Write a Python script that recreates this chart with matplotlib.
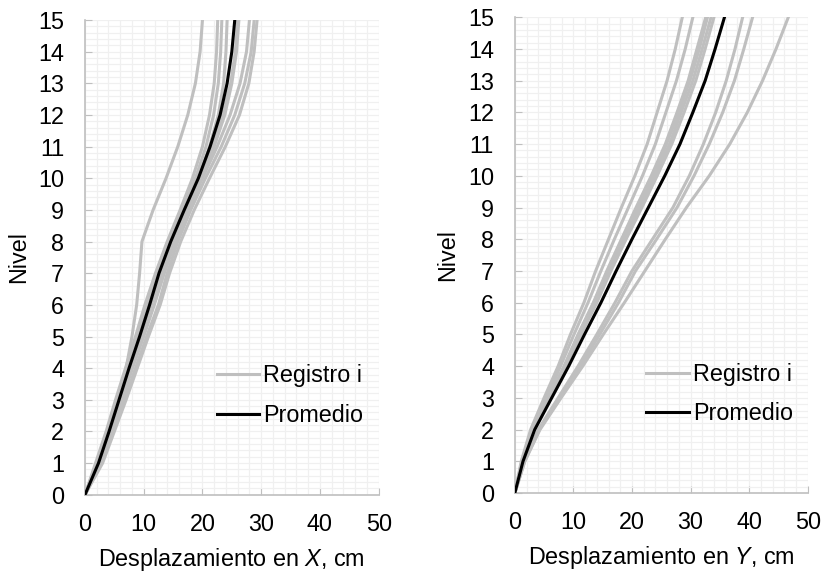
import numpy as np
from matplotlib import pyplot as plt
from matplotlib.ticker import MultipleLocator

plt.rcParams['font.family'] = ['Liberation Sans', 'DejaVu Sans']
plt.rcParams['mathtext.fontset'] = 'custom'
plt.rcParams['mathtext.it'] = 'Liberation Sans:italic'
plt.rcParams['mathtext.rm'] = 'Liberation Sans'

#Niveles del edificio
niveles = np.arange(0, 16)

#Desplazamientos en X de cada registro, cm
regX = [
    [0, 2.0, 3.8, 5.4, 7.0, 8.0, 8.8, 9.3, 9.7, 11.6, 13.8, 15.8, 17.5, 18.8, 19.6, 20.0],
    [0, 1.8, 3.6, 5.2, 6.9, 8.6, 10.2, 12.0, 14.0, 16.2, 18.3, 20.0, 21.2, 22.0, 22.4, 22.6],
    [0, 2.0, 3.8, 5.5, 7.2, 8.9, 10.5, 12.4, 14.4, 16.6, 18.8, 20.6, 21.9, 22.7, 23.1, 23.3],
    [0, 2.2, 4.0, 5.7, 7.4, 9.1, 10.8, 12.7, 14.8, 17.0, 19.3, 21.2, 22.7, 23.6, 24.0, 24.2],
    [0, 2.4, 4.2, 5.9, 7.6, 9.4, 11.1, 13.0, 15.0, 17.2, 19.5, 21.6, 23.4, 24.8, 25.6, 26.0],
    [0, 2.5, 4.3, 6.0, 7.8, 9.6, 11.3, 13.1, 15.1, 17.4, 19.8, 22.0, 23.8, 25.0, 25.8, 26.2],
    [0, 2.6, 4.5, 6.3, 8.1, 10.0, 11.8, 13.5, 15.4, 17.6, 20.0, 22.5, 24.7, 26.4, 27.5, 28.0],
    [0, 2.8, 4.8, 6.7, 8.6, 10.5, 12.5, 14.0, 15.8, 18.0, 20.5, 23.2, 25.5, 27.2, 28.3, 28.8],
    [0, 3.0, 5.0, 7.0, 8.9, 10.8, 12.8, 14.4, 16.3, 18.6, 21.2, 23.9, 26.3, 27.9, 28.8, 29.3],
]
promX = [0, 2.3, 4.1, 5.8, 7.5, 9.3, 11.0, 12.6, 14.6, 16.9, 19.3, 21.3, 23.0, 24.2, 25.0, 25.5]

#Desplazamientos en Y de cada registro, cm
regY = [
    [0, 1.1, 2.7, 5.0, 7.4, 9.5, 11.8, 13.8, 16.0, 18.2, 20.5, 22.6, 24.3, 26.0, 27.4, 28.6],
    [0, 1.2, 2.9, 5.4, 7.8, 10.1, 12.5, 14.7, 17.0, 19.4, 21.8, 24.0, 25.8, 27.6, 29.1, 30.4],
    [0, 1.3, 3.1, 5.7, 8.4, 10.8, 13.4, 15.7, 18.2, 20.7, 23.3, 25.7, 27.7, 29.6, 31.1, 32.6],
    [0, 1.3, 3.1, 5.8, 8.5, 10.9, 13.5, 15.9, 18.4, 21.0, 23.6, 25.9, 28.0, 29.9, 31.5, 32.9],
    [0, 1.3, 3.2, 5.9, 8.6, 11.1, 13.7, 16.2, 18.7, 21.3, 23.9, 26.4, 28.4, 30.4, 32.0, 33.5],
    [0, 1.3, 3.2, 6.0, 8.7, 11.3, 14.0, 16.4, 19.0, 21.7, 24.3, 26.8, 28.9, 30.9, 32.5, 34.0],
    [0, 1.6, 4.0, 7.4, 10.8, 14.0, 17.1, 20.0, 23.5, 27.0, 29.8, 32.2, 34.3, 36.1, 37.6, 38.9],
    [0, 1.7, 4.2, 7.7, 11.2, 14.5, 17.7, 20.6, 24.2, 27.7, 30.6, 33.2, 35.5, 37.5, 39.1, 40.6],
    [0, 1.7, 4.3, 7.9, 11.6, 15.1, 18.7, 22.2, 25.7, 29.3, 33.2, 36.7, 39.7, 42.3, 44.6, 46.7],
]
promY = [0, 1.4, 3.4, 6.3, 9.2, 11.9, 14.7, 17.3, 20.0, 22.8, 25.6, 28.2, 30.4, 32.5, 34.2, 35.8]

gris = '#BFBFBF'
fs = 16.8


def grafica(ax, registros, promedio, etiqueta, xleg, yleg):
    #Se dibujan los registros en gris y el promedio en negro
    for i, r in enumerate(registros):
        ax.plot(r, niveles, color=gris, lw=2.2, label='Registro i' if i == 0 else None, zorder=2)
    ax.plot(promedio, niveles, color='black', lw=2.2, label='Promedio', zorder=3)

    ax.set_xlim(0, 50)
    ax.set_ylim(0, 15)
    ax.xaxis.set_major_locator(MultipleLocator(10))
    ax.xaxis.set_minor_locator(MultipleLocator(2))
    ax.yaxis.set_major_locator(MultipleLocator(1))
    ax.yaxis.set_minor_locator(MultipleLocator(0.2))
    ax.grid(which='both', color='#F0F0F0', lw=0.9, zorder=0)
    ax.set_axisbelow(True)

    for s in ['top', 'right']:
        ax.spines[s].set_visible(False)
    for s in ['left', 'bottom']:
        ax.spines[s].set_color(gris)
        ax.spines[s].set_linewidth(1.2)
    ax.tick_params(which='major', direction='in', length=5, color=gris, labelsize=fs)
    ax.tick_params(axis='x', pad=13)
    ax.tick_params(axis='y', pad=15)
    ax.tick_params(which='minor', length=0)

    ax.set_xlabel(etiqueta, fontsize=fs, labelpad=7)
    ax.set_ylabel('Nivel', fontsize=fs, labelpad=6)
    ax.legend(loc='center left', bbox_to_anchor=(xleg, yleg), frameon=False, fontsize=fs,
              handlelength=1.83, handletextpad=0.17, labelspacing=0.71,
              borderpad=0, borderaxespad=0)


fig = plt.figure(figsize=(8.25, 5.72), dpi=100)
ax1 = fig.add_axes([0.103, 0.135, 0.356, 0.830])
ax2 = fig.add_axes([0.624, 0.138, 0.355, 0.832])

grafica(ax1, regX, promX, 'Desplazamiento en $\\it{X}$, cm', 0.448, 0.209)
grafica(ax2, regY, promY, 'Desplazamiento en $\\it{Y}$, cm', 0.449, 0.208)

plt.savefig('out.png', dpi=100)
